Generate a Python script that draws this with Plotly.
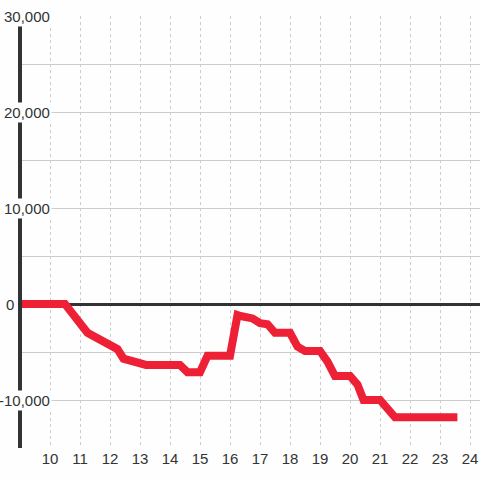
import plotly.graph_objects as go

hours = [9, 10.5, 11.25, 11.5, 12.25, 12.45, 13.2, 14.33, 14.58, 15, 15.25, 16, 16.25,
         16.35, 16.75, 17, 17.25, 17.5, 18, 18.25, 18.5, 19, 19.25, 19.5, 20, 20.25,
         20.45, 21, 21.5, 23.58]
values = [0, 0, -3000, -3400, -4700, -5700, -6350, -6350, -7100, -7100, -5400, -5400, -1150,
          -1250, -1500, -2000, -2100, -3000, -3000, -4450, -4900, -4900, -6000, -7500, -7500, -8400,
          -10000, -10000, -11800, -11800]

x_ticks = list(range(10, 25))
y_ticks = [30000, 20000, 10000, 0, -10000]
y_labels = ["30,000", "20,000", "10,000", "0", "-10,000"]

BG = "#fdfefd"
TXT = "#333333"
PLOT_W = 460.0

fig = go.Figure()
fig.add_trace(go.Scatter(x=hours, y=values, mode="lines",
                         line=dict(color="#ee2036", width=8), hoverinfo="skip"))

fig.update_layout(
    width=480, height=480,
    margin=dict(l=20, r=0, t=16, b=32, pad=0),
    paper_bgcolor=BG, plot_bgcolor=BG,
    showlegend=False,
    font=dict(family="Liberation Sans, Arial, sans-serif", size=15, color=TXT),
    xaxis=dict(range=[9, 24.3333], tickvals=x_ticks, ticktext=[str(t) for t in x_ticks],
               showgrid=True, gridcolor="#cccccc", gridwidth=1, griddash="3px,3px",
               zeroline=False, showline=False, ticks="", tickfont=dict(size=15, color=TXT)),
    yaxis=dict(range=[-15000, 30000], tickvals=list(range(-15000, 30001, 5000)),
               showticklabels=False, showgrid=True, gridcolor="#cccccc", gridwidth=1,
               zeroline=True, zerolinecolor="#333333", zerolinewidth=3, showline=False),
)

# left axis line
fig.add_shape(type="line", xref="paper", yref="y", x0=0, x1=0, y0=-15000, y1=30000,
              line=dict(color="#333333", width=4), layer="above")

for v, lab in zip(y_ticks, y_labels):
    if v == 0:
        fig.add_annotation(x=-4 / PLOT_W, xref="paper", y=v, yref="y", text=lab, showarrow=False,
                           xanchor="right", yanchor="middle", font=dict(size=15, color=TXT))
    else:
        fig.add_annotation(x=32 / PLOT_W, xref="paper", y=v, yref="y", text=lab, showarrow=False,
                           xanchor="right", yanchor="middle", bgcolor=BG, borderpad=1,
                           font=dict(size=15, color=TXT))

fig.write_html("out.html", config={"displayModeBar": False},
               post_script="document.body.style.margin='0';document.body.style.padding='0';")
